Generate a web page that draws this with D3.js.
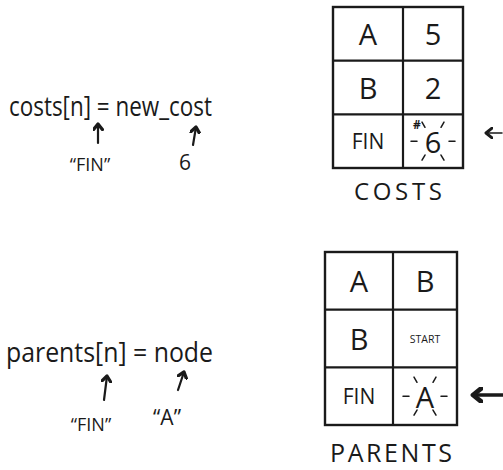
<!DOCTYPE html>
<html><head><meta charset="utf-8">
<script src="https://cdn.jsdelivr.net/npm/d3@7"></script>
<style>body{margin:0;background:#fff}svg{display:block}</style>
</head><body>
<script>
// data
const costKeys = ["A", "B", "FIN"];
const costValues = ["5", "2", "6"];
const parentKeys = ["A", "B", "FIN"];
const parentValues = ["B", "START", "A"];
const tableTitles = ["COSTS", "PARENTS"];
const formulas = ["costs[n] = new_cost", "parents[n] = node"];
const costNotes = ["“FIN”", "6"];
const parentNotes = ["“FIN”", "“A”"];
const updatedRow = "FIN";

const W = 503, H = 470;
const font = "'Open Sans', 'DejaVu Sans', sans-serif";
const svg = d3.select("body").append("svg").attr("width", W).attr("height", H);
const ink = "#1a1a1a";
svg.append("defs");

function arrow(x1, y1, x2, y2, w, size) {
  const id = "ah" + Math.round(size * 10) + "_" + Math.round(w * 10);
  if (svg.select("#" + id).empty()) {
    svg.select("defs").append("marker").attr("id", id).attr("viewBox", "0 0 10 10")
      .attr("refX", 6).attr("refY", 5).attr("markerWidth", size).attr("markerHeight", size)
      .attr("markerUnits", "userSpaceOnUse").attr("orient", "auto")
      .append("path").attr("d", "M1,1 L6,5 L1,9").attr("fill", "none").attr("stroke", ink)
      .attr("stroke-width", Math.min(3, 20 * w / size))
      .attr("stroke-linecap", "round").attr("stroke-linejoin", "round");
  }
  svg.append("line").attr("x1", x1).attr("y1", y1).attr("x2", x2).attr("y2", y2)
    .attr("stroke", ink).attr("stroke-width", w).attr("stroke-linecap", "round")
    .attr("marker-end", "url(#" + id + ")");
}

function table(keys, vals, x0, x1, xm, y0, y1, titleY, title, titleLen, titleSize) {
  const y = d3.scaleBand().domain(keys).range([y0, y1]);
  const g = svg.append("g");
  g.append("rect").attr("x", x0).attr("y", y0).attr("width", x1 - x0).attr("height", y1 - y0)
    .attr("fill", "none").attr("stroke", ink).attr("stroke-width", 2.4);
  g.append("line").attr("x1", xm).attr("x2", xm).attr("y1", y0).attr("y2", y1)
    .attr("stroke", ink).attr("stroke-width", 2.2);
  g.selectAll(".rl").data(keys.slice(1)).join("line")
    .attr("x1", x0).attr("x2", x1).attr("y1", d => y(d)).attr("y2", d => y(d))
    .attr("stroke", ink).attr("stroke-width", 2.2);
  g.selectAll(".k").data(keys).join("text")
    .attr("x", (x0 + xm) / 2).attr("y", d => y(d) + y.bandwidth() / 2)
    .attr("text-anchor", "middle").attr("dominant-baseline", "central")
    .attr("font-family", font).attr("font-size", d => d.length > 2 ? 21 : 29)
    .attr("fill", ink).text(d => d);
  g.selectAll(".v").data(vals).join("text")
    .attr("x", (xm + x1) / 2).attr("y", (d, i) => y(keys[i]) + y.bandwidth() / 2)
    .attr("text-anchor", "middle").attr("dominant-baseline", "central")
    .attr("font-family", font).attr("font-size", d => d.length > 2 ? 10.5 : 29)
    .attr("fill", ink).text(d => d);
  // sparkle around the updated value
  const cx = (xm + x1) / 2, cy = y(updatedRow) + y.bandwidth() / 2;
  const angles = [0, 60, 120, 180, 240, 300];
  g.selectAll(".sp").data(angles).join("line")
    .attr("x1", a => cx + 16 * Math.cos(a * Math.PI / 180))
    .attr("y1", a => cy + 16 * Math.sin(a * Math.PI / 180))
    .attr("x2", a => cx + 22 * Math.cos(a * Math.PI / 180))
    .attr("y2", a => cy + 22 * Math.sin(a * Math.PI / 180))
    .attr("stroke", ink).attr("stroke-width", 1.5).attr("stroke-linecap", "round");
  g.append("text").attr("x", (x0 + x1) / 2).attr("y", titleY).attr("text-anchor", "middle")
    .attr("font-family", font).attr("font-size", titleSize)
    .attr("textLength", titleLen).attr("lengthAdjust", "spacing")
    .attr("fill", ink).text(title);
  return { y, cx, cy };
}

// COSTS table
const c = table(costKeys, costValues, 333, 463, 403, 7, 168, 200, tableTitles[0], 88, 24);
svg.append("text").attr("x", c.cx - 20).attr("y", c.cy - 12).attr("font-family", font)
  .attr("font-size", 12).attr("font-weight", "bold").attr("fill", ink).text("#");
arrow(502, 133, 486, 133, 1.5, 12);

// PARENTS table
const p = table(parentKeys, parentValues, 325, 457, 393, 252, 425, 462, tableTitles[1], 122, 25);
arrow(503, 395, 473, 395, 3.4, 16);

// formulas
svg.append("text").attr("x", 9).attr("y", 116).attr("font-family", font).attr("font-size", 28)
  .attr("textLength", 203).attr("lengthAdjust", "spacingAndGlyphs").attr("fill", ink).text(formulas[0]);
arrow(98, 143, 98, 124, 2.2, 11);
arrow(193, 145, 196, 127, 2.2, 11);
svg.append("text").attr("x", 90).attr("y", 171).attr("text-anchor", "middle").attr("font-family", font)
  .attr("font-size", 18).attr("fill", ink).text(costNotes[0]);
svg.append("text").attr("x", 185).attr("y", 170).attr("text-anchor", "middle").attr("font-family", font)
  .attr("font-size", 21).attr("fill", ink).text(costNotes[1]);

svg.append("text").attr("x", 6).attr("y", 362).attr("font-family", font).attr("font-size", 28)
  .attr("textLength", 207).attr("lengthAdjust", "spacingAndGlyphs").attr("fill", ink).text(formulas[1]);
arrow(104, 400, 107, 376, 2.2, 11);
arrow(178, 390, 184, 372, 2.2, 11);
svg.append("text").attr("x", 91).attr("y", 431).attr("text-anchor", "middle").attr("font-family", font)
  .attr("font-size", 18).attr("fill", ink).text(parentNotes[0]);
svg.append("text").attr("x", 167).attr("y", 425).attr("text-anchor", "middle").attr("font-family", font)
  .attr("font-size", 21).attr("fill", ink).text(parentNotes[1]);
</script>
</body></html>
